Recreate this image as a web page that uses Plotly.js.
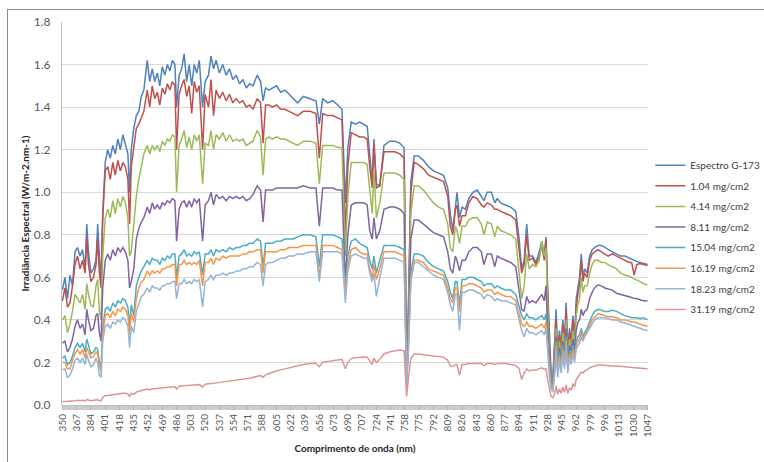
<!DOCTYPE html>
<html><head><meta charset="utf-8">
<script src="https://cdn.plot.ly/plotly-3.0.1.min.js"></script>
<style>
html,body{margin:0;padding:0;background:#fff;overflow:hidden}
#chart{position:absolute;left:0;top:0;width:764px;height:462px}
#frame{position:absolute;left:7px;top:9px;width:800px;height:500px;border:1px solid #8a8a8a;pointer-events:none}
</style>
</head><body>
<div id="chart"></div><div id="frame"></div>
<script>
const wavelength = [
 350,353,356,359,362,365,368,371,374,377,
 379,381,384,387,390,392,394,396,398,401,
 404,407,410,413,416,419,422,425,428,430,
 432,435,438,441,444,447,451,454,457,460,
 463,466,469,472,475,478,481,484,486,489,
 492,495,498,501,504,507,510,513,517,520,
 524,527,530,533,537,541,545,549,553,557,
 561,565,569,573,577,582,586,589,592,596,
 600,605,610,615,620,625,630,637,645,652,
 656,660,666,672,678,683,687,690,694,699,
 704,709,713,716,719,721,724,728,733,740,
 746,752,757,760,762,765,769,774,780,786,
 792,798,804,809,812,815,818,820,823,826,
 830,834,839,844,849,852,856,861,865,868,
 872,878,884,890,894,897,900,903,906,910,
 914,918,921,924,926,928,930,932,934,936,
 938,940,942,944,946,948,950,952,954,956,
 958,960,962,964,966,968,970,972,975,978,
 981,984,988,992,996,1000,1005,1010,1015,1020,
 1025,1028,1031,1034,1038,1042,1047];

const espectroG173 = [
 0.54,0.60,0.50,0.61,0.56,0.72,0.74,0.70,0.73,0.64,
 0.85,0.72,0.62,0.64,0.68,0.85,0.70,0.58,0.90,1.14,
 1.20,1.16,1.22,1.18,1.25,1.20,1.27,1.22,1.18,1.00,
 1.20,1.30,1.36,1.38,1.45,1.48,1.62,1.52,1.58,1.52,
 1.56,1.50,1.59,1.55,1.60,1.57,1.62,1.60,1.40,1.55,
 1.58,1.65,1.52,1.60,1.50,1.60,1.56,1.62,1.40,1.52,
 1.55,1.64,1.58,1.62,1.56,1.60,1.55,1.58,1.53,1.55,
 1.51,1.53,1.49,1.51,1.50,1.55,1.52,1.43,1.49,1.48,
 1.49,1.50,1.47,1.48,1.46,1.44,1.42,1.45,1.44,1.43,
 1.32,1.44,1.42,1.43,1.41,1.39,0.95,1.21,1.33,1.32,
 1.33,1.32,1.31,1.18,1.05,1.25,1.04,1.03,1.22,1.24,
 1.24,1.23,1.21,0.20,0.45,1.05,1.17,1.17,1.15,1.12,
 1.10,1.09,1.08,1.02,0.90,0.82,0.95,1.00,0.88,0.93,
 0.92,0.97,1.00,1.01,0.98,0.96,1.00,1.00,0.95,0.97,
 0.95,0.94,0.93,0.91,0.78,0.64,0.68,0.85,0.70,0.70,
 0.67,0.72,0.77,0.70,0.79,0.55,0.30,0.15,0.10,0.30,
 0.45,0.24,0.35,0.27,0.40,0.30,0.48,0.25,0.36,0.30,
 0.42,0.32,0.50,0.55,0.60,0.71,0.60,0.64,0.62,0.70,
 0.73,0.74,0.75,0.75,0.74,0.73,0.72,0.71,0.70,0.70,
 0.69,0.685,0.68,0.675,0.67,0.665,0.66];

const mg1_04 = [
 0.49,0.55,0.46,0.48,0.56,0.66,0.70,0.64,0.68,0.62,
 0.79,0.66,0.58,0.60,0.66,0.78,0.62,0.55,0.88,1.10,
 1.12,1.06,1.14,1.08,1.15,1.10,1.14,1.12,1.06,0.85,
 1.12,1.22,1.30,1.32,1.35,1.38,1.48,1.40,1.50,1.44,
 1.47,1.41,1.49,1.46,1.51,1.48,1.52,1.50,1.20,1.46,
 1.50,1.53,1.45,1.50,1.37,1.52,1.47,1.50,1.20,1.46,
 1.40,1.53,1.36,1.48,1.44,1.47,1.43,1.46,1.42,1.44,
 1.42,1.43,1.40,1.41,1.39,1.44,1.42,1.23,1.41,1.41,
 1.40,1.41,1.39,1.39,1.38,1.37,1.36,1.38,1.38,1.37,
 1.16,1.37,1.36,1.36,1.35,1.34,0.80,1.12,1.28,1.27,
 1.26,1.26,1.25,1.12,1.02,1.23,1.02,1.03,1.19,1.19,
 1.19,1.18,1.16,0.18,0.40,1.00,1.14,1.13,1.11,1.08,
 1.07,1.06,1.05,0.98,0.84,0.80,0.92,0.94,0.84,0.89,
 0.89,0.95,0.98,0.97,0.94,0.93,0.95,0.94,0.92,0.92,
 0.91,0.90,0.89,0.87,0.72,0.62,0.66,0.80,0.68,0.69,
 0.66,0.70,0.75,0.68,0.78,0.52,0.28,0.14,0.10,0.26,
 0.40,0.22,0.33,0.25,0.38,0.28,0.45,0.24,0.34,0.29,
 0.40,0.30,0.46,0.52,0.57,0.68,0.58,0.62,0.60,0.68,
 0.71,0.72,0.73,0.72,0.71,0.70,0.71,0.70,0.69,0.68,
 0.67,0.67,0.61,0.66,0.665,0.66,0.655];

const mg4_14 = [
 0.40,0.42,0.34,0.38,0.44,0.52,0.50,0.48,0.52,0.45,
 0.57,0.52,0.47,0.46,0.56,0.59,0.44,0.40,0.70,0.88,
 0.92,0.88,0.96,0.90,0.97,0.93,0.98,0.95,0.88,0.70,
 0.72,0.84,0.98,1.06,1.12,1.18,1.22,1.18,1.22,1.20,
 1.22,1.19,1.24,1.22,1.25,1.24,1.27,1.26,1.00,1.22,
 1.25,1.29,1.21,1.26,1.20,1.27,1.24,1.27,1.04,1.23,
 1.22,1.29,1.20,1.27,1.25,1.28,1.24,1.27,1.24,1.25,
 1.24,1.25,1.22,1.23,1.24,1.29,1.26,1.08,1.25,1.26,
 1.25,1.26,1.25,1.25,1.24,1.23,1.22,1.24,1.24,1.23,
 1.04,1.22,1.22,1.22,1.21,1.21,0.70,0.98,1.14,1.14,
 1.14,1.14,1.13,1.00,0.90,1.10,0.88,0.95,1.09,1.09,
 1.09,1.08,1.06,0.15,0.35,0.90,1.03,1.03,1.01,0.98,
 0.95,0.93,0.92,0.85,0.74,0.72,0.84,0.82,0.76,0.84,
 0.84,0.87,0.88,0.88,0.85,0.80,0.86,0.85,0.79,0.84,
 0.82,0.81,0.80,0.78,0.62,0.50,0.56,0.71,0.64,0.66,
 0.65,0.68,0.77,0.70,0.74,0.45,0.22,0.12,0.09,0.22,
 0.36,0.20,0.30,0.22,0.34,0.25,0.40,0.22,0.31,0.27,
 0.35,0.28,0.42,0.47,0.50,0.60,0.53,0.56,0.56,0.62,
 0.66,0.68,0.68,0.67,0.67,0.66,0.65,0.64,0.62,0.61,
 0.605,0.60,0.595,0.59,0.58,0.57,0.565];

const mg8_11 = [
 0.29,0.30,0.25,0.27,0.31,0.37,0.40,0.36,0.38,0.33,
 0.45,0.40,0.35,0.36,0.42,0.43,0.34,0.30,0.55,0.68,
 0.71,0.68,0.73,0.70,0.74,0.72,0.74,0.72,0.68,0.55,
 0.58,0.64,0.78,0.83,0.86,0.88,0.93,0.90,0.95,0.92,
 0.94,0.92,0.95,0.94,0.96,0.95,0.97,0.96,0.77,0.92,
 0.95,0.96,0.93,0.96,0.93,0.97,0.95,0.97,0.77,0.94,
 0.96,1.00,0.94,0.99,0.97,0.98,0.96,0.98,0.97,0.98,
 0.97,0.98,0.96,0.97,0.99,1.03,1.01,0.86,1.01,1.01,
 1.01,1.02,1.02,1.02,1.02,1.02,1.02,1.03,1.02,1.02,
 0.84,1.02,1.02,1.02,1.01,1.01,0.58,0.80,0.94,0.95,
 0.95,0.95,0.94,0.82,0.78,0.88,0.78,0.82,0.92,0.93,
 0.93,0.92,0.90,0.12,0.30,0.78,0.87,0.87,0.85,0.83,
 0.81,0.80,0.79,0.72,0.64,0.62,0.70,0.68,0.63,0.68,
 0.68,0.72,0.74,0.74,0.72,0.66,0.71,0.71,0.65,0.70,
 0.69,0.68,0.67,0.65,0.52,0.45,0.44,0.51,0.48,0.49,
 0.48,0.50,0.52,0.49,0.56,0.36,0.20,0.11,0.08,0.18,
 0.32,0.18,0.27,0.20,0.30,0.22,0.36,0.20,0.28,0.25,
 0.31,0.26,0.35,0.39,0.40,0.45,0.42,0.44,0.45,0.50,
 0.53,0.55,0.565,0.56,0.55,0.545,0.54,0.525,0.52,0.515,
 0.51,0.505,0.50,0.50,0.495,0.49,0.49];

const mg15_04 = [
 0.22,0.23,0.19,0.20,0.23,0.27,0.29,0.27,0.29,0.25,
 0.31,0.28,0.24,0.25,0.27,0.26,0.20,0.17,0.36,0.45,
 0.46,0.44,0.48,0.46,0.49,0.48,0.50,0.49,0.46,0.37,
 0.47,0.42,0.56,0.60,0.63,0.65,0.68,0.66,0.69,0.68,
 0.68,0.66,0.69,0.68,0.70,0.69,0.71,0.71,0.60,0.70,
 0.71,0.73,0.70,0.71,0.70,0.72,0.71,0.72,0.61,0.71,
 0.71,0.73,0.70,0.73,0.72,0.73,0.72,0.74,0.73,0.74,
 0.74,0.75,0.75,0.76,0.76,0.78,0.77,0.65,0.76,0.76,
 0.76,0.77,0.77,0.78,0.78,0.78,0.79,0.80,0.80,0.79,
 0.65,0.80,0.80,0.80,0.79,0.78,0.55,0.70,0.77,0.78,
 0.76,0.75,0.74,0.68,0.64,0.70,0.62,0.68,0.75,0.75,
 0.75,0.74,0.73,0.11,0.28,0.62,0.71,0.71,0.70,0.67,
 0.65,0.64,0.63,0.58,0.53,0.50,0.58,0.58,0.47,0.59,
 0.59,0.60,0.60,0.59,0.58,0.56,0.57,0.57,0.55,0.56,
 0.55,0.54,0.54,0.52,0.46,0.42,0.40,0.43,0.41,0.41,
 0.40,0.41,0.42,0.40,0.43,0.32,0.18,0.10,0.08,0.16,
 0.30,0.16,0.25,0.18,0.28,0.20,0.32,0.18,0.26,0.23,
 0.28,0.24,0.30,0.32,0.33,0.36,0.32,0.34,0.36,0.39,
 0.42,0.44,0.45,0.445,0.44,0.44,0.445,0.44,0.43,0.42,
 0.415,0.41,0.41,0.41,0.405,0.41,0.40];

const mg16_19 = [
 0.20,0.20,0.17,0.17,0.21,0.24,0.26,0.24,0.26,0.22,
 0.27,0.25,0.22,0.23,0.25,0.24,0.18,0.16,0.33,0.42,
 0.43,0.41,0.44,0.42,0.45,0.44,0.46,0.45,0.42,0.33,
 0.43,0.39,0.50,0.55,0.58,0.59,0.63,0.61,0.63,0.62,
 0.63,0.62,0.64,0.64,0.65,0.65,0.66,0.66,0.56,0.66,
 0.66,0.68,0.66,0.67,0.66,0.67,0.66,0.68,0.56,0.67,
 0.67,0.69,0.66,0.69,0.68,0.70,0.69,0.70,0.70,0.70,
 0.70,0.71,0.71,0.72,0.72,0.73,0.73,0.62,0.72,0.72,
 0.72,0.72,0.73,0.73,0.74,0.74,0.74,0.75,0.75,0.75,
 0.60,0.75,0.75,0.75,0.74,0.73,0.52,0.66,0.73,0.74,
 0.72,0.71,0.71,0.64,0.60,0.66,0.59,0.64,0.72,0.72,
 0.72,0.71,0.70,0.10,0.26,0.59,0.68,0.68,0.67,0.64,
 0.63,0.62,0.61,0.55,0.50,0.48,0.55,0.55,0.44,0.56,
 0.56,0.57,0.57,0.56,0.55,0.53,0.54,0.54,0.52,0.53,
 0.52,0.51,0.51,0.49,0.42,0.38,0.37,0.39,0.37,0.37,
 0.36,0.37,0.38,0.36,0.39,0.29,0.16,0.09,0.07,0.14,
 0.28,0.15,0.23,0.17,0.26,0.19,0.30,0.17,0.24,0.21,
 0.26,0.22,0.28,0.30,0.31,0.34,0.31,0.33,0.35,0.37,
 0.40,0.415,0.43,0.425,0.42,0.415,0.415,0.41,0.40,0.40,
 0.395,0.39,0.39,0.385,0.38,0.375,0.37];

const mg18_23 = [
 0.165,0.17,0.13,0.14,0.17,0.21,0.22,0.20,0.22,0.19,
 0.24,0.21,0.18,0.19,0.22,0.20,0.14,0.13,0.30,0.37,
 0.38,0.36,0.39,0.38,0.40,0.39,0.41,0.40,0.37,0.27,
 0.37,0.34,0.44,0.48,0.51,0.52,0.55,0.53,0.56,0.55,
 0.55,0.54,0.56,0.56,0.57,0.57,0.58,0.58,0.50,0.57,
 0.57,0.59,0.57,0.58,0.57,0.59,0.58,0.59,0.46,0.58,
 0.59,0.61,0.59,0.61,0.61,0.62,0.61,0.62,0.62,0.63,
 0.63,0.64,0.64,0.65,0.65,0.67,0.66,0.56,0.66,0.67,
 0.67,0.68,0.69,0.69,0.70,0.70,0.71,0.71,0.72,0.72,
 0.58,0.72,0.72,0.72,0.72,0.71,0.48,0.63,0.70,0.71,
 0.70,0.69,0.69,0.62,0.58,0.62,0.51,0.60,0.69,0.69,
 0.69,0.68,0.67,0.09,0.24,0.58,0.67,0.67,0.65,0.63,
 0.61,0.60,0.59,0.53,0.47,0.44,0.52,0.52,0.35,0.53,
 0.53,0.54,0.54,0.53,0.52,0.50,0.52,0.51,0.49,0.50,
 0.49,0.49,0.48,0.47,0.40,0.35,0.32,0.36,0.34,0.34,
 0.33,0.34,0.35,0.33,0.36,0.26,0.14,0.08,0.06,0.13,
 0.26,0.13,0.21,0.15,0.24,0.17,0.28,0.15,0.22,0.19,
 0.24,0.20,0.26,0.28,0.29,0.32,0.30,0.32,0.34,0.36,
 0.38,0.40,0.41,0.41,0.41,0.405,0.40,0.40,0.39,0.385,
 0.38,0.375,0.37,0.365,0.36,0.355,0.35];

const mg31_19 = [
 0.015,0.016,0.014,0.015,0.018,0.020,0.022,0.020,0.022,0.020,
 0.025,0.022,0.020,0.022,0.025,0.024,0.020,0.020,0.035,0.045,
 0.045,0.047,0.050,0.050,0.052,0.053,0.055,0.055,0.052,0.040,
 0.055,0.050,0.060,0.065,0.068,0.070,0.075,0.072,0.076,0.076,
 0.078,0.078,0.080,0.082,0.083,0.084,0.085,0.086,0.075,0.088,
 0.089,0.090,0.090,0.092,0.093,0.094,0.095,0.096,0.085,0.098,
 0.100,0.100,0.102,0.104,0.106,0.108,0.110,0.112,0.115,0.118,
 0.120,0.122,0.124,0.126,0.130,0.135,0.138,0.130,0.142,0.148,
 0.155,0.160,0.165,0.170,0.175,0.180,0.185,0.190,0.195,0.195,
 0.180,0.200,0.205,0.210,0.212,0.215,0.170,0.200,0.218,0.222,
 0.225,0.226,0.225,0.210,0.190,0.220,0.200,0.215,0.240,0.250,
 0.255,0.258,0.255,0.040,0.120,0.220,0.240,0.240,0.236,0.232,
 0.230,0.228,0.225,0.210,0.185,0.180,0.190,0.190,0.140,0.190,
 0.190,0.195,0.195,0.195,0.195,0.185,0.195,0.195,0.190,0.195,
 0.195,0.195,0.190,0.185,0.170,0.120,0.150,0.170,0.160,0.165,
 0.165,0.170,0.175,0.168,0.170,0.120,0.070,0.040,0.035,0.050,
 0.090,0.050,0.075,0.055,0.085,0.060,0.095,0.055,0.080,0.070,
 0.100,0.085,0.120,0.130,0.140,0.155,0.150,0.160,0.165,0.175,
 0.180,0.185,0.188,0.188,0.186,0.185,0.183,0.183,0.180,0.180,
 0.178,0.177,0.176,0.175,0.174,0.172,0.170];

const seriesNames = ['Espectro G-173','1.04 mg/cm2','4.14 mg/cm2','8.11 mg/cm2','15.04 mg/cm2','16.19 mg/cm2','18.23 mg/cm2','31.19 mg/cm2'];
const seriesValues = [espectroG173, mg1_04, mg4_14, mg8_11, mg15_04, mg16_19, mg18_23, mg31_19];
const seriesColors = ['#4F81BD','#C0504D','#9BBB59','#8064A2','#4BACC6','#F79646','#95B3D7','#DA9694'];

const traces = seriesNames.map((n,i)=>({
  type:'scatter', mode:'lines', name:n, x:wavelength, y:seriesValues[i],
  legendgroup:'g'+i,
  line:{color:seriesColors[i], width:1.5}, hoverinfo:'skip'
}));

const layout = {
  width:764, height:462,
  margin:{l:62, r:116, t:22, b:57, pad:0, autoexpand:false},
  paper_bgcolor:'#ffffff', plot_bgcolor:'#ffffff',
  font:{family:'Lato, "Open Sans", sans-serif', size:11, color:'#595959'},
  showlegend:true,
  legend:{x:1.004, xanchor:'left', y:0.664, yanchor:'top', font:{size:10, color:'#404040'},
          bgcolor:'rgba(0,0,0,0)', traceorder:'grouped', tracegroupgap:1.6},
  xaxis:{
    range:[349.5,1047.5], tickmode:'linear', tick0:350, dtick:17, tickangle:-90,
    ticks:'outside', ticklen:4, tickcolor:'#b5b5b5', showgrid:false, zeroline:false,
    showline:true, linecolor:'#bfbfbf', linewidth:1,
    tickfont:{size:10, color:'#595959'},
    minor:{dtick:1, tick0:350, ticks:'outside', ticklen:4, tickcolor:'#cccccc', showgrid:false},
    title:{text:'Comprimento de onda (nm)', font:{size:10, color:'#262626', weight:'bold'}, standoff:8}
  },
  yaxis:{
    range:[0,1.8], tickmode:'linear', tick0:0, dtick:0.2, tickformat:'.1f',
    showgrid:true, gridcolor:'#d9d9d9', gridwidth:1, zeroline:false,
    showline:true, linecolor:'#bfbfbf', ticks:'', tickfont:{size:12, color:'#595959'},
    ticklabelstandoff:8,
    title:{text:'Irradiância Espectral (W/m-2.nm-1)', font:{size:10, color:'#262626', weight:'bold'}, standoff:2}
  }
};

Plotly.newPlot('chart', traces, layout, {displayModeBar:false, staticPlot:true});
</script>
</body></html>
